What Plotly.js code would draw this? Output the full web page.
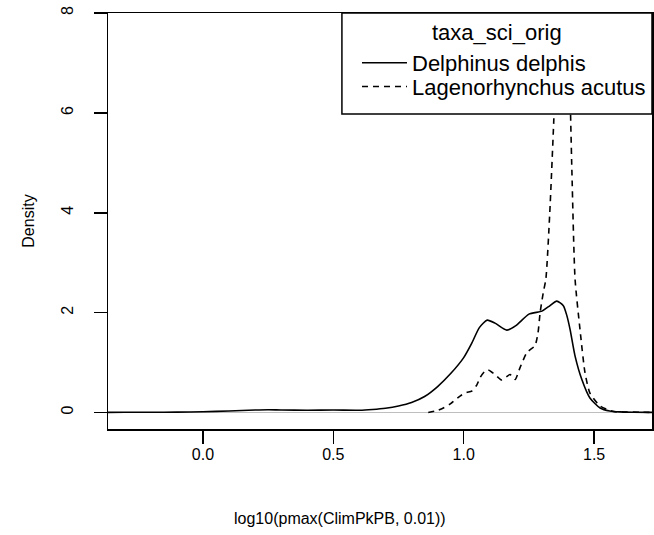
<!DOCTYPE html>
<html>
<head>
<meta charset="utf-8">
<script src="https://cdn.plot.ly/plotly-3.0.1.min.js"></script>
<style>html,body{margin:0;padding:0;background:#fff;}#chart{width:654px;height:535px;}</style>
</head>
<body>
<div id="chart"></div>
<script>
// Delphinus delphis density (solid)
var xDelph = [-0.364, -0.3, -0.2, -0.1, 0.0, 0.1, 0.2, 0.25, 0.3, 0.4, 0.5, 0.6, 0.65, 0.7, 0.75, 0.8, 0.85, 0.9, 0.95, 1.0, 1.03, 1.06, 1.09, 1.12, 1.165, 1.2, 1.25, 1.3, 1.325, 1.357, 1.382, 1.395, 1.408, 1.427, 1.453, 1.484, 1.523, 1.56, 1.6, 1.65, 1.722];
var yDelph = [0.003, 0.004, 0.005, 0.008, 0.015, 0.03, 0.05, 0.055, 0.05, 0.045, 0.05, 0.045, 0.06, 0.085, 0.13, 0.2, 0.32, 0.52, 0.78, 1.1, 1.38, 1.7, 1.85, 1.79, 1.65, 1.74, 1.97, 2.03, 2.12, 2.23, 2.14, 1.95, 1.66, 1.13, 0.66, 0.29, 0.09, 0.03, 0.012, 0.005, 0.002];
// Lagenorhynchus acutus density (dashed)
var xLag = [0.864, 0.9, 0.922, 0.95, 0.986, 1.01, 1.031, 1.05, 1.063, 1.08, 1.094, 1.11, 1.12, 1.146, 1.165, 1.178, 1.197, 1.216, 1.242, 1.26, 1.273, 1.285, 1.293, 1.305, 1.315, 1.33, 1.345, 1.355, 1.365, 1.38, 1.395, 1.405, 1.415, 1.427, 1.446, 1.465, 1.484, 1.523, 1.575, 1.62, 1.68, 1.722];
var yLag = [0.0, 0.04, 0.09, 0.18, 0.33, 0.40, 0.43, 0.55, 0.70, 0.82, 0.85, 0.80, 0.76, 0.65, 0.72, 0.76, 0.66, 0.90, 1.2, 1.28, 1.33, 1.6, 2.0, 2.4, 2.67, 4.0, 5.8, 7.2, 8.6, 9.5, 8.6, 7.0, 4.8, 2.67, 1.66, 0.8, 0.39, 0.13, 0.02, 0.01, 0.005, 0.003];
var seriesNames = ["Delphinus delphis", "Lagenorhynchus acutus"];
var legendTitle = "taxa_sci_orig";
var xTicks = [0.0, 0.5, 1.0, 1.5];
var xTickText = ["0.0", "0.5", "1.0", "1.5"];
var yTicks = [0, 2, 4, 6, 8];
var yTickText = ["0", "2", "4", "6", "8"];

var font = "Liberation Sans, Arial, Helvetica, sans-serif";

var traces = [
  {x: xDelph, y: yDelph, type: "scatter", mode: "lines", name: seriesNames[0], legend: "legend",
   line: {color: "#000", width: 1.6, shape: "spline", smoothing: 0.6}},
  {x: xLag, y: yLag, type: "scatter", mode: "lines", name: seriesNames[1], legend: "legend2",
   line: {color: "#000", width: 1.6, dash: "6px,5px", shape: "spline", smoothing: 0.6}}
];

var legendCommon = {
  xanchor: "left", yanchor: "middle",
  bgcolor: "rgba(0,0,0,0)", borderwidth: 0,
  font: {family: font, size: 22, color: "#000"},
  itemwidth: 45
};

var layout = {
  width: 654, height: 535,
  margin: {l: 108, r: 2, t: 13, b: 106},
  paper_bgcolor: "#fff", plot_bgcolor: "#fff",
  font: {family: font, size: 16, color: "#000"},
  xaxis: {
    range: [-0.364, 1.722], tickvals: xTicks, ticktext: xTickText,
    showgrid: false, zeroline: false, showline: true, mirror: true,
    linecolor: "#000", linewidth: 1.5, ticks: "outside", ticklen: 13, tickwidth: 1.5, tickcolor: "#000",
    tickfont: {family: font, size: 16}, ticklabelstandoff: -3
  },
  yaxis: {
    range: [-0.33, 8.0], tickvals: yTicks, ticktext: yTickText, tickangle: -90,
    showgrid: false, zeroline: false, showline: true, mirror: true,
    linecolor: "#000", linewidth: 1.5, ticks: "outside", ticklen: 13, tickwidth: 1.5, tickcolor: "#000",
    tickfont: {family: font, size: 16}, ticklabelstandoff: 14,
    title: {text: "Density", font: {family: font, size: 16}, standoff: 20}
  },
  annotations: [
    {text: "log10(pmax(ClimPkPB, 0.01))", xref: "paper", yref: "paper", x: 0.4265, y: -0.216,
     xanchor: "center", yanchor: "middle", showarrow: false, font: {family: font, size: 16}},
    {text: legendTitle, xref: "paper", yref: "paper", x: 0.7151, y: 0.952,
     xanchor: "center", yanchor: "middle", showarrow: false, font: {family: font, size: 22}}
  ],
  shapes: [
    {type: "line", xref: "paper", yref: "y", x0: 0, x1: 1, y0: 0, y1: 0,
     line: {color: "#bebebe", width: 1.2}, layer: "below"},
    {type: "rect", xref: "paper", yref: "paper", x0: 0.430, x1: 1, y0: 0.757, y1: 1,
     line: {color: "#000", width: 1.5}, fillcolor: "#fff", layer: "above"}
  ],
  showlegend: true,
  legend: Object.assign({x: 0.4577, y: 0.880}, legendCommon),
  legend2: Object.assign({x: 0.4577, y: 0.823}, legendCommon)
};

Plotly.newPlot("chart", traces, layout, {displayModeBar: false, staticPlot: true});
</script>
</body>
</html>
